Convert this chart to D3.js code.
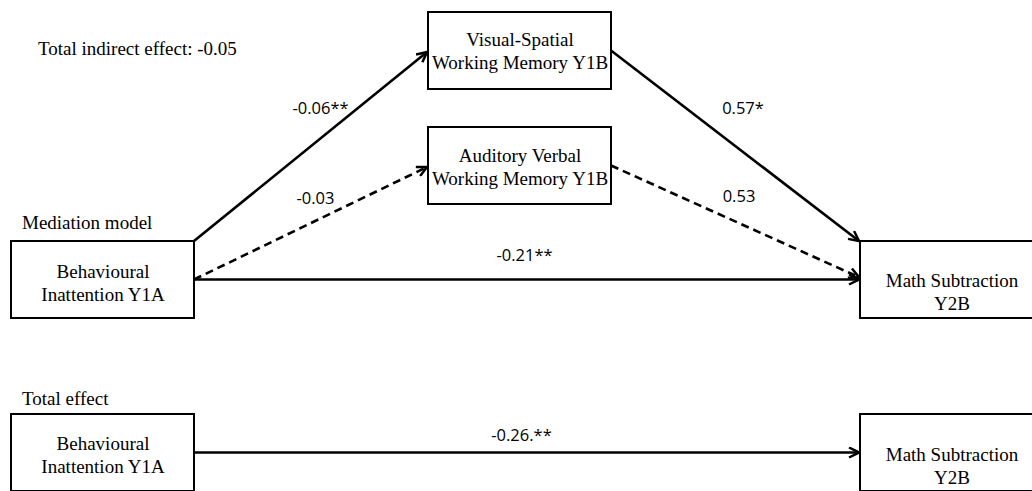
<!DOCTYPE html>
<html>
<head>
<meta charset="utf-8">
<script src="https://cdn.jsdelivr.net/npm/d3@7"></script>
<style>
  body { margin: 0; background: #fff; }
  svg { display: block; }
  .serif { font-family: "Liberation Serif", "Times New Roman", "DejaVu Serif", serif; }
  .coef { font-family: "Open Sans", "DejaVu Sans", sans-serif; }
</style>
</head>
<body>
<svg id="diagram" width="1032" height="491"></svg>
<script>
// Data

var nodeIds = ["X", "M1", "M2", "Y", "Xt", "Yt"];
var nodeLabels = [
  ["Behavioural", "Inattention Y1A"],
  ["Visual-Spatial", "Working Memory Y1B"],
  ["Auditory Verbal", "Working Memory Y1B"],
  ["Math Subtraction", "Y2B"],
  ["Behavioural", "Inattention Y1A"],
  ["Math Subtraction", "Y2B"]
];
var nodeCol = [0, 1, 1, 2, 0, 2];
var nodeRow = [2, 0, 1, 2, 3, 3];

var pathFrom = ["X", "M1", "X", "M2", "X", "Xt"];
var pathTo = ["M1", "Y", "M2", "Y", "Y", "Yt"];
var pathCoef = ["-0.06**", "0.57*", "-0.03", "0.53", "-0.21**", "-0.26.**"];
var pathSig = [true, true, false, false, true, true];

var sectionTitles = ["Total indirect effect: -0.05", "Mediation model", "Total effect"];

// Layout

var svg = d3.select("#diagram");

var colX = d3.scaleOrdinal().domain([0, 1, 2]).range([11, 428, 860]);
var rowY = d3.scaleOrdinal().domain([0, 1, 2, 3]).range([12, 127, 241, 414]);
var boxW = 183, boxH = 77;
var textTop = [37, 34, 35, 46, 36, 47]; // baseline of first line inside each box

var nodes = {};
nodeIds.forEach(function(id, i) {
  nodes[id] = {x: colX(nodeCol[i]), y: rowY(nodeRow[i]), label: nodeLabels[i], ty: textTop[i]};
});

// anchor points on boxes (fractions of box size)
var anchors = [
  [[1, 0], [0, 0.52]],
  [[1, 0.5], [0, 0]],
  [[1, 0.5], [0, 0.52]],
  [[1, 0.5], [0, 0.47]],
  [[1, 0.5], [0, 0.5]],
  [[1, 0.5], [0, 0.5]]
];
// label offsets relative to path midpoint
var labelOff = [[10, -38], [8, -38], [5, -25], [4, -25], [-2, -24], [-5, -17]];

svg.append("defs").append("marker")
  .attr("id", "arrow")
  .attr("viewBox", "0 0 12 12")
  .attr("refX", 11)
  .attr("refY", 6)
  .attr("markerWidth", 12)
  .attr("markerHeight", 12)
  .attr("markerUnits", "userSpaceOnUse")
  .attr("orient", "auto")
  .append("path")
    .attr("d", "M1,1 L11,6 L1,11")
    .attr("fill", "none")
    .attr("stroke", "#000")
    .attr("stroke-width", 2.5);

var paths = pathFrom.map(function(f, i) {
  var a = nodes[f], b = nodes[pathTo[i]];
  var x1 = a.x + anchors[i][0][0] * boxW, y1 = a.y + anchors[i][0][1] * boxH;
  var x2 = b.x + anchors[i][1][0] * boxW - 1, y2 = b.y + anchors[i][1][1] * boxH;
  return {x1: x1, y1: y1, x2: x2, y2: y2, coef: pathCoef[i], sig: pathSig[i], off: labelOff[i]};
});

svg.append("g").selectAll("line")
  .data(paths)
  .enter().append("line")
    .attr("x1", function(d) { return d.x1; })
    .attr("y1", function(d) { return d.y1; })
    .attr("x2", function(d) { return d.x2; })
    .attr("y2", function(d) { return d.y2; })
    .attr("stroke", "#000")
    .attr("stroke-width", 2.6)
    .attr("stroke-dasharray", function(d) { return d.sig ? null : "8,5"; })
    .attr("marker-end", "url(#arrow)");

svg.append("g").selectAll("text")
  .data(paths)
  .enter().append("text")
    .attr("class", "coef")
    .attr("x", function(d) { return (d.x1 + d.x2) / 2 + d.off[0]; })
    .attr("y", function(d) { return (d.y1 + d.y2) / 2 + d.off[1]; })
    .attr("text-anchor", "middle")
    .attr("dy", "0.35em")
    .attr("font-size", 16.5)
    .text(function(d) { return d.coef; });

var box = svg.append("g").selectAll("g")
  .data(nodeIds.map(function(id) { return nodes[id]; }))
  .enter().append("g")
    .attr("transform", function(d) { return "translate(" + d.x + "," + d.y + ")"; });

box.append("rect")
  .attr("width", boxW)
  .attr("height", boxH)
  .attr("fill", "#fff")
  .attr("stroke", "#000")
  .attr("stroke-width", 2);

box.each(function(n) {
  d3.select(this).selectAll("text")
    .data(n.label)
    .enter().append("text")
      .attr("class", "serif")
      .attr("x", boxW / 2 + 0.5)
      .attr("y", function(d, i) { return n.ty + i * 23; })
      .attr("text-anchor", "middle")
      .attr("font-size", 19)
      .text(function(d) { return d; });
});

var titlePos = [[38, 55], [22, 229], [22, 405]];
svg.append("g").selectAll("text")
  .data(sectionTitles)
  .enter().append("text")
    .attr("class", "serif")
    .attr("x", function(d, i) { return titlePos[i][0]; })
    .attr("y", function(d, i) { return titlePos[i][1]; })
    .attr("font-size", 19)
    .text(function(d) { return d; });
</script>
</body>
</html>
